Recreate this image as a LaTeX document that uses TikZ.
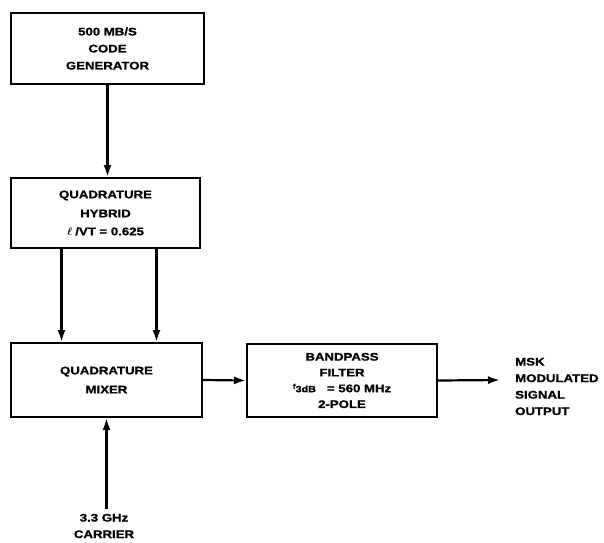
\documentclass[tikz,border=0pt]{standalone}
\usepackage{amsmath}
\usepackage{fontspec}
\setmainfont{Liberation Sans}[FakeStretch=1.2, BoldFeatures={FakeBold=1.2}]
\usetikzlibrary{arrows.meta}

\begin{document}
\begin{tikzpicture}[
    x=1pt, y=-1pt,
    block/.style={draw, line width=2pt, inner sep=0pt, align=center,
      font=\fontsize{11}{17}\selectfont\bfseries},
    lbl/.style={align=center, inner sep=2pt,
      font=\fontsize{11}{16.5}\selectfont\bfseries},
    feed/.style={draw, line width=2.2pt, -{Latex[length=12pt,width=8pt]}}
  ]
    \useasboundingbox (0,0) rectangle (604,542);
    \node[block, minimum width=193pt, minimum height=71pt] (gen) at (107.5,48.5)
      {500 MB/S\\CODE\\GENERATOR};
    \node[block, minimum width=189pt, minimum height=70pt] (hyb) at (105.5,213)
      {QUADRATURE\\[2pt]HYBRID\\[1pt]$\boldsymbol{\ell}$\;/VT = 0.625};
    \node[block, minimum width=191pt, minimum height=74pt] (mix) at (106.5,380)
      {QUADRATURE\\[2pt]MIXER};
    \node[block, minimum width=190pt, minimum height=73pt,
      font=\fontsize{11}{15.8}\selectfont\bfseries] (bpf) at (342,380.5)
      {BANDPASS\\FILTER\\{\scriptsize\raisebox{0.9ex}{f}}{\small 3dB}\quad= 560 MHz\\2-POLE};
    \node[lbl, anchor=west, align=left] (out) at (513,386.5)
      {MSK\\MODULATED\\SIGNAL\\OUTPUT};
    \node[lbl] (car) at (104,526) {3.3 GHz\\CARRIER};
    \coordinate (outtip) at (500,380);
    \draw[feed] (gen.south) -- (gen.south |- hyb.north);
    \foreach \dx [count=\k] in {-44,51} {
      \coordinate (h\k) at ([xshift=\dx]hyb.south);
      \draw[feed] (h\k) -- (h\k |- mix.north);
    }
    \draw[feed] (mix.east) -- (bpf.west);
    \draw[feed] (bpf.east) -- (outtip);
    \draw[feed] ([yshift=3pt]car.north -| mix.south) -- (mix.south);
\end{tikzpicture}
\end{document}
